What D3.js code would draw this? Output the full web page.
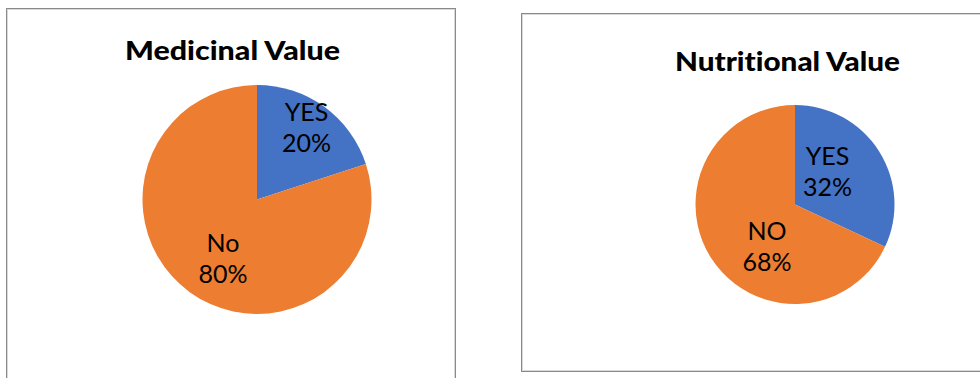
<!DOCTYPE html>
<html>
<head>
<meta charset="utf-8">
<script src="https://cdn.jsdelivr.net/npm/d3@7"></script>
<style>
  html, body { margin: 0; padding: 0; background: #fff; }
  svg { display: block; }
  text { font-variant-ligatures: none; }
</style>
</head>
<body>
<svg id="chart" width="980" height="378"></svg>
<script>
// ---- data ----
const titles = ["Medicinal Value", "Nutritional Value"];
const medicinalLabels = ["YES", "No"];
const medicinalValues = [20, 80];
const nutritionalLabels = ["YES", "NO"];
const nutritionalValues = [32, 68];
const sliceColors = ["#4472C4", "#ED7D31"];

// ---- layout ----
const panels = [
  { box: [6, 8, 450, 380], cx: 257, cy: 199.5, r: 114.5, titleX: 232.5, titleY: 60, titleW: 215,
    labels: medicinalLabels, values: medicinalValues,
    labelOffsets: [[0.432, -0.633], [-0.297, 0.511]] },
  { box: [521, 13, 470, 359], cx: 795, cy: 204.5, r: 99.5, titleX: 787.5, titleY: 71, titleW: 225,
    labels: nutritionalLabels, values: nutritionalValues,
    labelOffsets: [[0.327, -0.332], [-0.281, 0.417]] }
];

const svg = d3.select("#chart");
const font = "Lato, Carlito, 'Open Sans', sans-serif";

panels.forEach((p, i) => {
  const [bx, by, bw, bh] = p.box;
  // frame: light inner line + darker outer line
  svg.append("rect").attr("x", bx + 1.5).attr("y", by + 1.5).attr("width", bw - 3).attr("height", bh - 3)
    .attr("fill", "none").attr("stroke", "#d9d9d9").attr("stroke-width", 1);
  svg.append("rect").attr("x", bx + 0.5).attr("y", by + 0.5).attr("width", bw - 1).attr("height", bh - 1)
    .attr("fill", "none").attr("stroke", "#8a8a8a").attr("stroke-width", 1);

  svg.append("text")
    .attr("x", p.titleX).attr("y", p.titleY)
    .attr("text-anchor", "middle")
    .attr("textLength", p.titleW).attr("lengthAdjust", "spacingAndGlyphs")
    .style("font-family", font).style("font-weight", "900").style("font-size", "27px")
    .attr("fill", "#000")
    .text(titles[i]);

  const data = p.values.map((v, k) => ({ label: p.labels[k], value: v, k }));
  const pie = d3.pie().sort(null).value(d => d.value);
  const arc = d3.arc().innerRadius(0).outerRadius(p.r);
  const g = svg.append("g").attr("transform", `translate(${p.cx},${p.cy})`);
  const arcs = pie(data);
  g.selectAll("path").data(arcs).join("path")
    .attr("d", arc)
    .attr("fill", d => sliceColors[d.data.k]);

  const x = d3.scaleLinear().domain([-1, 1]).range([-p.r, p.r]);
  const lbl = g.selectAll("text.lbl").data(arcs).join("text")
    .attr("class", "lbl")
    .attr("text-anchor", "middle")
    .style("font-family", font).style("font-size", "25px")
    .attr("fill", "#000")
    .attr("transform", d => {
      const o = p.labelOffsets[d.data.k];
      return `translate(${x(o[0])},${x(o[1])})`;
    });
  lbl.append("tspan").attr("x", 0).attr("y", -6).text(d => d.data.label);
  lbl.append("tspan").attr("x", 0).attr("y", 25).text(d => {
    const total = d3.sum(p.values);
    return Math.round(d.data.value / total * 100) + "%";
  });
});
</script>
</body>
</html>
